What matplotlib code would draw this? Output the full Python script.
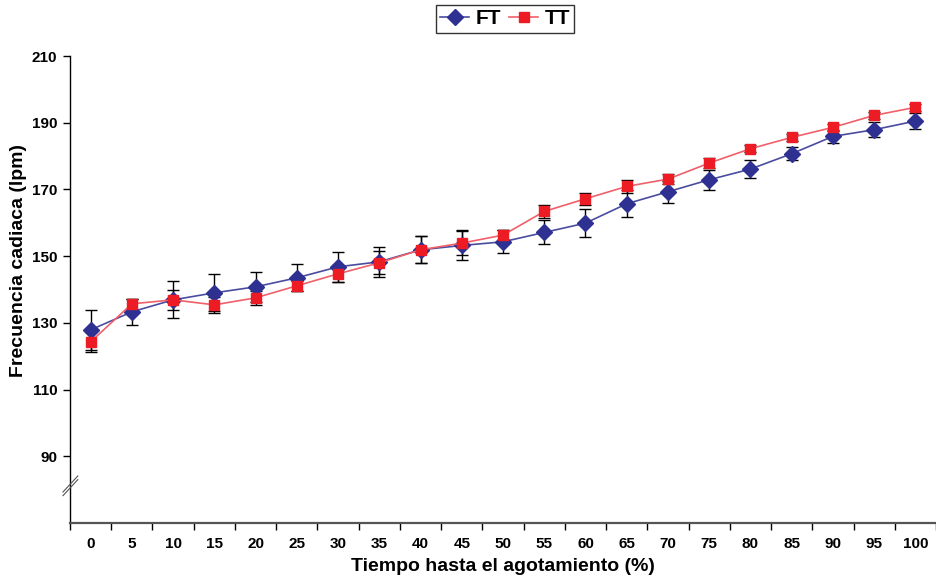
import matplotlib
matplotlib.use('Agg')
import matplotlib.pyplot as plt
import numpy as np

tiempo = [0, 5, 10, 15, 20, 25, 30, 35, 40, 45, 50,
          55, 60, 65, 70, 75, 80, 85, 90, 95, 100]
ft = [127.9, 133.3, 136.9, 139.0, 140.8, 143.5, 146.8, 148.3, 151.9, 153.2, 154.3,
      157.1, 159.9, 165.7, 169.3, 172.9, 176.1, 180.7, 185.9, 187.9, 190.5]
ft_sd = [6.0, 4.0, 5.5, 5.5, 4.5, 4.0, 4.5, 4.5, 4.0, 4.5, 3.5,
         3.6, 4.2, 4.0, 3.3, 3.0, 2.8, 2.0, 2.0, 2.2, 2.3]
tt = [124.3, 135.7, 136.9, 135.4, 137.5, 141.1, 144.7, 148.0, 151.9, 153.9, 156.3,
      163.4, 167.2, 170.9, 173.1, 177.9, 182.2, 185.6, 188.6, 192.2, 194.6]
tt_sd = [3.0, 1.5, 3.0, 2.5, 2.0, 1.5, 2.5, 3.5, 4.0, 3.5, 1.5,
         2.0, 1.8, 2.0, 1.5, 1.5, 1.0, 1.0, 1.0, 1.0, 1.0]
yticks = [90, 110, 130, 150, 170, 190, 210]

fam = ['Liberation Sans', 'DejaVu Sans']

fig = plt.figure(figsize=(9.36, 5.8), dpi=100)
ax = fig.add_axes([70 / 936, 57 / 580, 866 / 936, 467 / 580])

x = np.arange(len(tiempo))
ax.errorbar(x, ft, yerr=ft_sd, fmt='none', ecolor='black', elinewidth=1,
            capsize=4, capthick=1, zorder=2)
ax.errorbar(x, tt, yerr=tt_sd, fmt='none', ecolor='black', elinewidth=1,
            capsize=4, capthick=1, zorder=2)
ax.plot(x, ft, color='#4a4c9e', lw=1.2, marker='D', ms=8.5,
        mfc='#2e3192', mec='#2e3192', label='FT', zorder=3)
ax.plot(x, tt, color='#f0606a', lw=1.2, marker='s', ms=7,
        mfc='#ed1c24', mec='#ed1c24', label='TT', zorder=4)

ax.set_xlim(-0.5, len(tiempo) - 0.5)
ax.set_ylim(70, 210)
ax.set_yticks(yticks)
ax.set_yticklabels([str(v) for v in yticks], fontsize=11, fontweight='bold',
                   family=fam)
ax.set_xticks(x)
ax.set_xticklabels([str(v) for v in tiempo], fontsize=11, fontweight='bold',
                   family=fam)
ax.set_xticks(np.arange(-0.5, len(tiempo)), minor=True)
ax.tick_params(axis='x', which='major', length=0, pad=10)
ax.tick_params(axis='x', which='minor', length=5, direction='out', width=1)
ax.tick_params(axis='y', length=5, direction='out', width=1, pad=4)

for s in ['top', 'right']:
    ax.spines[s].set_visible(False)
ax.spines['bottom'].set_color('#555555')
ax.spines['bottom'].set_linewidth(1.6)
ax.spines['left'].set_linewidth(1)

# marcas de corte del eje y
for dy in (0, 1.1):
    ax.plot([-0.67, -0.31], [78.2 + dy, 83.0 + dy], color='#555555',
            lw=0.8, clip_on=False, zorder=5)

ax.set_xlabel('Tiempo hasta el agotamiento (%)', fontsize=14, fontweight='bold',
              family=fam, labelpad=5)
ax.set_ylabel('Frecuencia cadiaca (lpm)', fontsize=14, fontweight='bold',
              family=fam)
ax.yaxis.set_label_coords(-0.050, 0.563)

leg = fig.legend(loc='center', bbox_to_anchor=(505 / 936, 1 - 19 / 580), ncol=2,
                 frameon=True, fancybox=False, edgecolor='black',
                 prop={'weight': 'bold', 'size': 15, 'family': fam},
                 handlelength=1.4, columnspacing=0.4, handletextpad=0.3,
                 borderpad=0.2, borderaxespad=0)
leg.get_frame().set_linewidth(1)

fig.savefig('out.png', dpi=100)
